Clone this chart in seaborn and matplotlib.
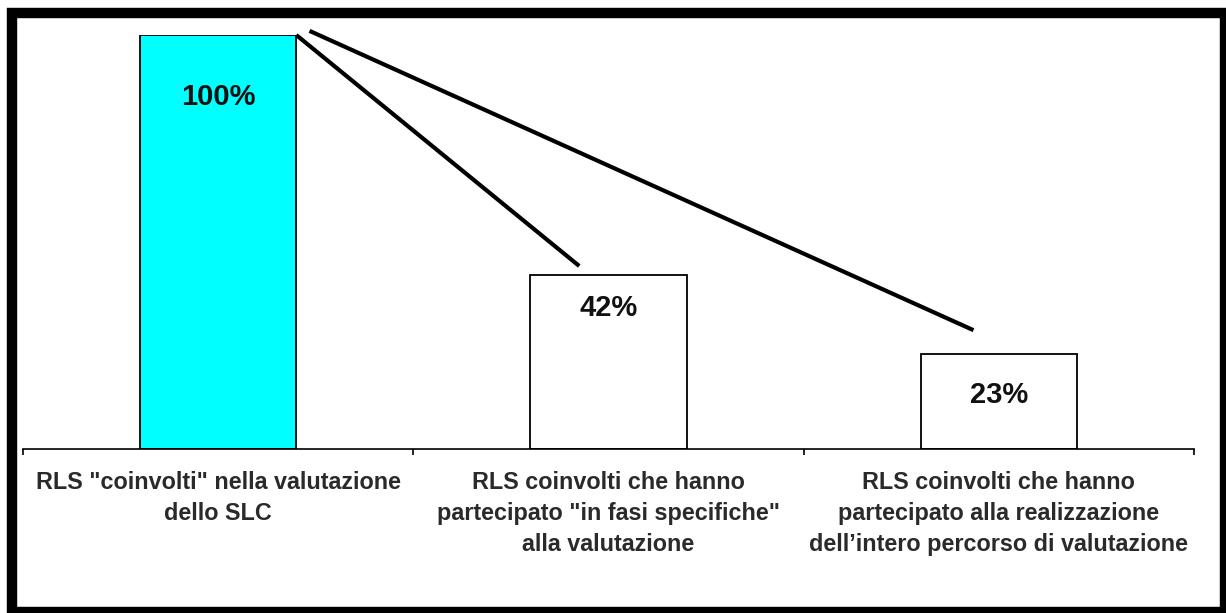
import matplotlib
matplotlib.use("Agg")
import matplotlib.pyplot as plt
import matplotlib.patches as mpatches
import pandas as pd
import seaborn as sns

sns.set_style("white")
plt.rcParams["font.family"] = ["Liberation Sans", "DejaVu Sans"]

# data
categories = [
    'RLS "coinvolti" nella valutazione\ndello SLC',
    'RLS coinvolti che hanno\npartecipato "in fasi specifiche"\nalla valutazione',
    'RLS coinvolti che hanno\npartecipato alla realizzazione\ndell\u2019intero percorso di valutazione',
]
values = [100, 42, 23]
bar_colors = ["#00FFFF", "#FFFFFF", "#FFFFFF"]
value_labels = ["100%", "42%", "23%"]

df = pd.DataFrame({"cat": categories, "val": values})

fig = plt.figure(figsize=(12.26, 6.13), dpi=100)
ax = fig.add_axes([23 / 1226, 164 / 613, (1194 - 23) / 1226, (449 - 35) / 613])

sns.barplot(data=df, x="cat", y="val", hue="cat", palette=bar_colors,
            width=0.4, edgecolor="black", linewidth=1.3, legend=False,
            saturation=1, ax=ax)

ax.set_xlim(-0.5, 2.5)
ax.set_ylim(0, 100)

# value labels inside the bars
label_y = [85, 34, 13]
for i, (txt, yy) in enumerate(zip(value_labels, label_y)):
    ax.text(i, yy, txt, ha="center", va="center", fontsize=21,
            fontweight="bold", color="#111111")

# connector lines from the first bar
ax.plot([0.2, 0.925], [100, 44.2], color="black", lw=3, clip_on=False,
        solid_capstyle="butt")
ax.plot([0.234, 1.935], [101, 28.7], color="black", lw=3, clip_on=False,
        solid_capstyle="butt")

# axes styling
for s in ["top", "left", "right"]:
    ax.spines[s].set_visible(False)
ax.spines["bottom"].set_color("black")
ax.spines["bottom"].set_linewidth(1.2)
ax.set_yticks([])
ax.set_xlabel("")
ax.set_ylabel("")
ax.set_xticks([0, 1, 2])
ax.set_xticklabels(categories, fontsize=16.8, fontweight="bold",
                   color="#2a2a2a", linespacing=1.45)
ax.tick_params(axis="x", which="major", length=0, pad=16)
ax.set_xticks([-0.5, 0.5, 1.5, 2.5], minor=True)
ax.tick_params(axis="x", which="minor", bottom=True, length=4, width=1.2,
               color="black", direction="out")

# thick black frame around the picture
frame = mpatches.Rectangle((12 / 1226, 1 / 613), (1225 - 12) / 1226,
                           (600 - 1) / 613, transform=fig.transFigure,
                           fill=False, edgecolor="black", linewidth=7.5)
fig.patches.append(frame)

fig.savefig("out.png", dpi=100, facecolor="white")
